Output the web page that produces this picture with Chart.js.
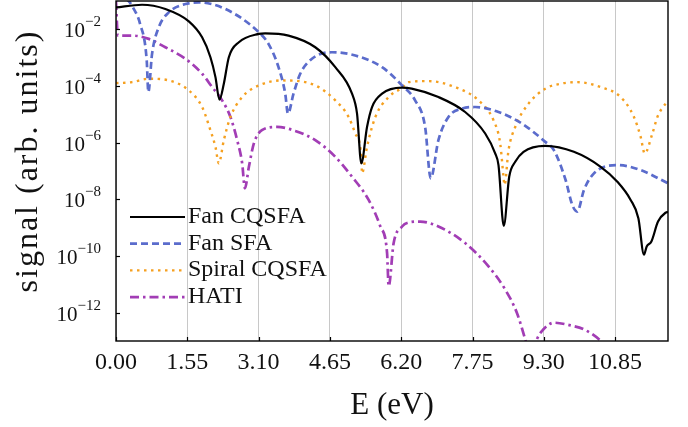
<!DOCTYPE html>
<html>
<head>
<meta charset="utf-8">
<script src="https://cdn.jsdelivr.net/npm/chart.js@4.4.0/dist/chart.umd.min.js"></script>
<style>
  html, body { margin: 0; padding: 0; background: #fff; }
</style>
</head>
<body>
<canvas id="myGraph" width="688" height="427"></canvas>
<script>
// Photoelectron signal vs energy, log scale

var serif = "'Liberation Serif', 'Times New Roman', serif";

var energyTicks = [0, 1.55, 3.10, 4.65, 6.20, 7.75, 9.30, 10.85];
var signalTicks = [1e-12, 1e-10, 1e-8, 1e-6, 1e-4, 1e-2];
var yTitle = "signal (arb. units)";

// values: energy (eV) and log10(signal)
var fanCqsfaE = [0, 0.566, 1.073, 1.583, 1.872, 2.053, 2.162, 2.249, 2.344, 2.453, 2.671, 3.106, 3.243, 3.751, 4.332, 4.767, 5.131, 5.240, 5.333, 5.457, 5.566, 5.784, 6.219, 6.428, 7.009, 7.590, 8.026, 8.243, 8.315, 8.430, 8.548, 8.679, 8.859, 9.332, 9.954, 10.536, 10.899, 11.188, 11.356, 11.478, 11.537, 11.639, 11.783, 11.950, 12.0];
var fanCqsfaLog = [-1.227, -1.132, -1.283, -1.719, -2.281, -2.984, -3.687, -4.482, -3.919, -2.984, -2.457, -2.162, -2.141, -2.221, -2.633, -3.336, -4.271, -4.974, -6.731, -5.445, -4.742, -4.271, -4.060, -4.095, -4.390, -4.917, -5.677, -6.380, -6.791, -8.935, -7.202, -6.675, -6.323, -6.112, -6.323, -6.851, -7.378, -8.021, -8.664, -9.954, -9.663, -9.487, -8.784, -8.467, -8.443];

var fanSfaE = [0, 0.2, 0.30, 0.370, 0.522, 0.668, 0.703, 0.784, 0.929, 1.147, 1.509, 1.800, 2.379, 3.106, 3.315, 3.533, 3.679, 3.738, 3.859, 4.005, 4.260, 4.695, 5.202, 5.784, 6.219, 6.502, 6.720, 6.842, 7.009, 7.227, 7.516, 7.808, 8.315, 8.822, 9.332, 9.519, 9.774, 9.919, 10.028, 10.172, 10.390, 10.899, 11.406, 12.0];
var fanSfaLog = [-0.8, -0.9, -1.05, -1.227, -1.800, -3.100, -4.214, -2.865, -1.930, -1.402, -1.107, -1.051, -1.283, -2.105, -2.513, -3.336, -4.271, -4.974, -4.271, -3.568, -3.040, -2.808, -2.924, -3.336, -3.979, -4.506, -5.445, -7.258, -5.912, -5.093, -4.798, -4.742, -4.917, -5.325, -5.972, -6.264, -7.318, -8.197, -8.432, -7.673, -7.083, -6.791, -6.967, -7.434];

var spiralE = [0, 0.348, 0.712, 1.147, 1.583, 1.872, 2.053, 2.162, 2.235, 2.344, 2.488, 2.743, 3.106, 3.607, 4.332, 4.767, 5.057, 5.202, 5.333, 5.348, 5.457, 5.638, 5.927, 6.219, 6.356, 6.792, 7.373, 7.880, 8.206, 8.352, 8.424, 8.446, 8.533, 8.679, 8.968, 9.332, 9.665, 10.028, 10.536, 10.971, 11.260, 11.406, 11.493, 11.661, 11.770, 11.950, 12.0];
var spiralLog = [-3.90, -3.863, -3.743, -3.803, -4.155, -4.742, -5.561, -6.148, -6.731, -5.912, -5.093, -4.390, -3.979, -3.803, -3.979, -4.506, -5.093, -5.677, -6.499, -7.083, -6.148, -5.093, -4.390, -4.060, -3.863, -3.828, -4.039, -4.506, -5.209, -6.028, -7.202, -7.494, -6.264, -5.445, -4.622, -4.095, -3.919, -3.863, -4.039, -4.390, -5.093, -5.796, -6.380, -5.677, -5.093, -4.622, -4.55];

var hatiE = [0, 0.04, 0.348, 0.712, 1.073, 1.509, 1.872, 2.090, 2.307, 2.488, 2.634, 2.743, 2.802, 2.889, 2.997, 3.172, 3.498, 3.896, 4.332, 4.767, 5.131, 5.492, 5.747, 5.893, 5.927, 6.036, 6.219, 6.356, 6.611, 7.009, 7.590, 8.098, 8.461, 8.714, 8.896, 9.01, 9.149, 9.258, 9.519, 9.883, 10.172, 10.499, 10.75];
var hatiLog = [-1.0, -2.22, -2.221, -2.337, -2.633, -3.040, -3.568, -4.039, -4.506, -5.093, -5.912, -6.731, -7.610, -6.851, -6.028, -5.561, -5.445, -5.585, -5.912, -6.499, -7.202, -8.021, -8.960, -9.895, -11.069, -9.543, -8.960, -8.819, -8.784, -8.960, -9.543, -10.366, -11.185, -12.003, -12.942, -13.6, -12.942, -12.650, -12.355, -12.450, -12.590, -12.942, -13.4];

function toPoints(xs, logs) {
  return xs.map(function(x, i) { return { x: x, y: Math.pow(10, logs[i]) }; });
}

// box round the plot, small inward ticks and the 10^n labels with raised exponents
var framePlugin = {
  id: "frame",
  afterDatasetsDraw: function(chart) {
    var ctx = chart.ctx;
    var a = chart.chartArea;
    ctx.save();
    ctx.strokeStyle = "#000";
    ctx.lineWidth = 1.4;
    ctx.strokeRect(a.left, a.top, a.right - a.left, a.bottom - a.top);
    ctx.lineWidth = 1.2;
    var ys = chart.scales.y;
    ctx.fillStyle = "#111";
    ctx.textBaseline = "alphabetic";
    ctx.textAlign = "left";
    ys.ticks.forEach(function(t) {
      var py = Math.round(ys.getPixelForValue(t.value)) + 0.5;
      ctx.beginPath(); ctx.moveTo(a.left, py); ctx.lineTo(a.left + 4, py); ctx.stroke();
      var expo = "\u2212" + String(-Math.round(Math.log10(t.value)));
      ctx.font = "15px " + serif;
      var ew = ctx.measureText(expo).width;
      ctx.font = "21px " + serif;
      var bw = ctx.measureText("10").width;
      var right = a.left - 15;
      ctx.fillText("10", right - ew - bw, py + 7);
      ctx.font = "15px " + serif;
      ctx.fillText(expo, right - ew, py - 4);
    });
    var xs = chart.scales.x;
    xs.ticks.forEach(function(t) {
      var px = Math.round(xs.getPixelForValue(t.value)) + 0.5;
      ctx.beginPath(); ctx.moveTo(px, a.bottom); ctx.lineTo(px, a.bottom - 4); ctx.stroke();
    });

    // vertical axis title, a little spaced out like the original face
    ctx.translate(29, 161);
    ctx.rotate(-Math.PI / 2);
    ctx.font = "32px " + serif;
    if ("letterSpacing" in ctx) ctx.letterSpacing = "2px";
    ctx.textAlign = "center";
    ctx.textBaseline = "middle";
    ctx.fillText(yTitle, 0, 0);
    ctx.restore();
  }
};

// legend sitting inside the plot, bottom left
var legendPlugin = {
  id: "innerLegend",
  afterDraw: function(chart) {
    var ctx = chart.ctx;
    var x0 = 130, x1 = 185, y0 = 217, step = 26.7;
    ctx.save();
    chart.data.datasets.forEach(function(ds, i) {
      var y = y0 + i * step;
      ctx.strokeStyle = ds.borderColor;
      ctx.lineWidth = ds.borderWidth;
      ctx.setLineDash(ds.borderDash || []);
      ctx.beginPath(); ctx.moveTo(x0, y); ctx.lineTo(x1, y); ctx.stroke();
      ctx.setLineDash([]);
      ctx.fillStyle = "#111";
      ctx.font = "24px " + serif;
      ctx.textBaseline = "alphabetic";
      ctx.fillText(ds.label, x1 + 3, y + 6);
    });
    ctx.restore();
  }
};

var graph = document.getElementById("myGraph").getContext("2d");

var signalChart = new Chart(graph, {
  type: "line",
  data: {
    datasets: [
      {
        label: "Fan CQSFA",
        data: toPoints(fanCqsfaE, fanCqsfaLog),
        borderColor: "#000000",
        borderWidth: 2.2
      },
      {
        label: "Fan SFA",
        data: toPoints(fanSfaE, fanSfaLog),
        borderColor: "#5b6ccc",
        borderWidth: 2.7,
        borderDash: [7, 4]
      },
      {
        label: "Spiral CQSFA",
        data: toPoints(spiralE, spiralLog),
        borderColor: "#f5a020",
        borderWidth: 2.4,
        borderDash: [2.5, 4.5]
      },
      {
        label: "HATI",
        data: toPoints(hatiE, hatiLog),
        borderColor: "#a23db5",
        borderWidth: 2.7,
        borderDash: [9, 4, 2.5, 4]
      }
    ]
  },
  options: {
    responsive: false,
    animation: false,
    devicePixelRatio: 1,
    layout: { padding: { top: 1, right: 20, left: 0, bottom: 0 } },
    elements: {
      point: { radius: 0 },
      line: { cubicInterpolationMode: "monotone", fill: false }
    },
    plugins: {
      legend: { display: false },
      tooltip: { enabled: false }
    },
    scales: {
      x: {
        type: "linear",
        min: 0,
        max: 12,
        afterBuildTicks: function(s) {
          s.ticks = energyTicks.map(function(v) { return { value: v }; });
        },
        afterFit: function(s) {
          s.height = 86;
          s.paddingLeft = 0;
          s.paddingRight = 0;
        },
        ticks: {
          color: "#111",
          font: { family: serif, size: 24 },
          padding: 7,
          maxRotation: 0,
          callback: function(v) { return Number(v).toFixed(2); }
        },
        grid: { color: "#c8c8c8", lineWidth: 1, drawTicks: false },
        border: { display: false },
        title: {
          display: true,
          text: "E (eV)",
          color: "#111",
          font: { family: serif, size: 31 },
          padding: { top: 0, bottom: 3 }
        }
      },
      y: {
        type: "logarithmic",
        min: 1e-13,
        max: 1e-1,
        afterBuildTicks: function(s) {
          s.ticks = signalTicks.map(function(v) { return { value: v }; });
        },
        afterFit: function(s) {
          s.width = 116;
          s.paddingTop = 0;
          s.paddingBottom = 0;
        },
        ticks: {
          color: "rgba(0,0,0,0)",
          font: { family: serif, size: 21 },
          padding: 12,
          callback: function(v) { return "10"; }
        },
        grid: { display: false },
        border: { display: false },
        title: { display: false }
      }
    }
  },
  plugins: [framePlugin, legendPlugin]
});
</script>
</body>
</html>
